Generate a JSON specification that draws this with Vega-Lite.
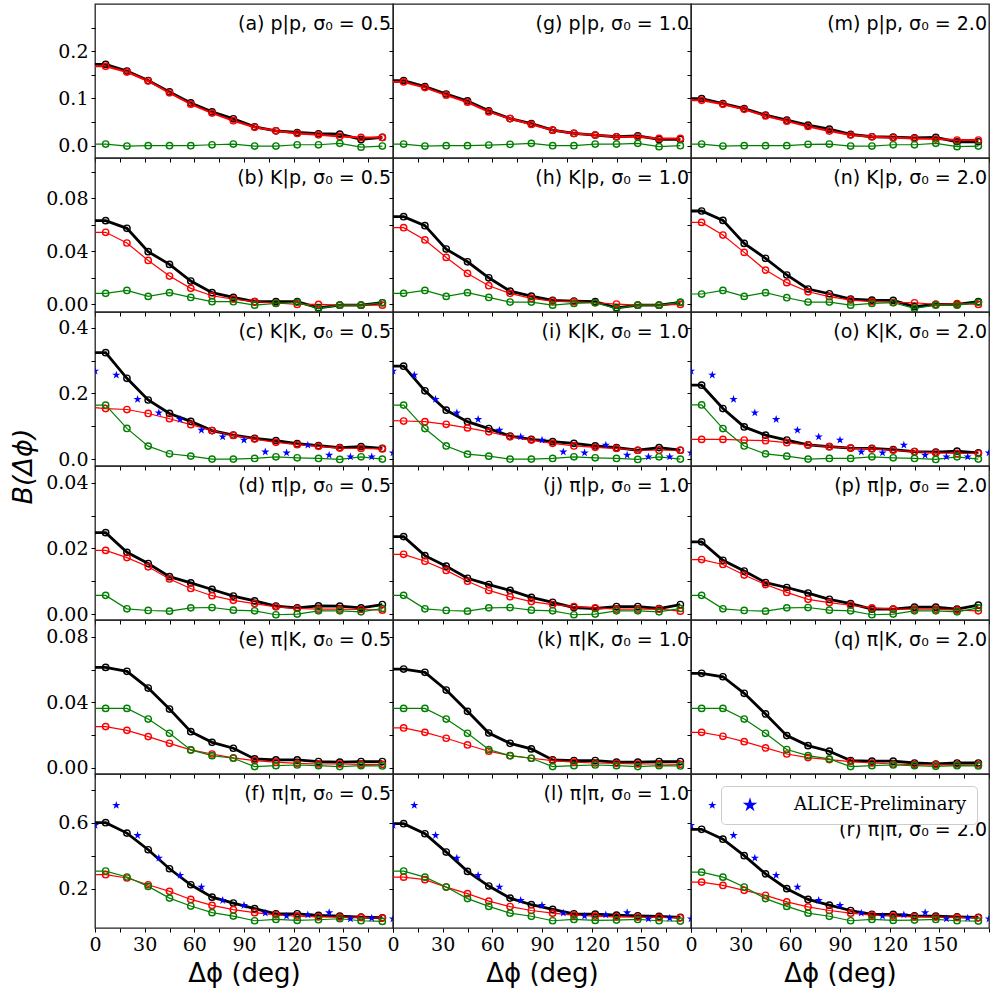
{
"$schema":"https://vega.github.io/schema/vega-lite/v6.json",
"background":"white",
"padding":{"left":9,"top":3,"right":5,"bottom":3},
"columns":3,"spacing":0,"bounds":"flush",
"resolve":{"scale":{"shape":"independent"},"legend":{"shape":"independent"}},
"data":{"values":[
{"p":"a","x":-6.43,"T":0.172,"R":0.168,"G":0.0035},{"p":"a","x":6.43,"T":0.172,"R":0.168,"G":0.0035},{"p":"a","x":19.29,"T":0.158,"R":0.156,"G":-0.0007},{"p":"a","x":32.14,"T":0.138,"R":0.137,"G":0},{"p":"a","x":45,"T":0.114,"R":0.112,"G":0},{"p":"a","x":57.86,"T":0.0905,"R":0.088,"G":0},{"p":"a","x":70.71,"T":0.0716,"R":0.069,"G":0.002},{"p":"a","x":83.57,"T":0.057,"R":0.053,"G":0.0035},{"p":"a","x":96.43,"T":0.04,"R":0.039,"G":-0.0007},{"p":"a","x":109.29,"T":0.0316,"R":0.0316,"G":-0.0007},{"p":"a","x":122.14,"T":0.028,"R":0.026,"G":0.002},{"p":"a","x":135,"T":0.0253,"R":0.023,"G":0.002},{"p":"a","x":147.86,"T":0.0246,"R":0.0196,"G":0.005},{"p":"a","x":160.71,"T":0.0133,"R":0.0175,"G":-0.003},{"p":"a","x":173.57,"T":0.0175,"R":0.0175,"G":-0.0007},
{"p":"g","x":-6.43,"T":0.138,"R":0.135,"G":0.0035},{"p":"g","x":6.43,"T":0.138,"R":0.135,"G":0.0035},{"p":"g","x":19.29,"T":0.125,"R":0.123,"G":-0.0007},{"p":"g","x":32.14,"T":0.1095,"R":0.107,"G":0},{"p":"g","x":45,"T":0.0947,"R":0.092,"G":0},{"p":"g","x":57.86,"T":0.074,"R":0.0716,"G":0.0014},{"p":"g","x":70.71,"T":0.0575,"R":0.0575,"G":0.003},{"p":"g","x":83.57,"T":0.047,"R":0.045,"G":0.005},{"p":"g","x":96.43,"T":0.033,"R":0.033,"G":0},{"p":"g","x":109.29,"T":0.026,"R":0.026,"G":0},{"p":"g","x":122.14,"T":0.0225,"R":0.0225,"G":0.0035},{"p":"g","x":135,"T":0.019,"R":0.019,"G":0.0035},{"p":"g","x":147.86,"T":0.021,"R":0.019,"G":0.005},{"p":"g","x":160.71,"T":0.0133,"R":0.0155,"G":-0.002},{"p":"g","x":173.57,"T":0.0133,"R":0.0155,"G":0},
{"p":"m","x":-6.43,"T":0.0996,"R":0.096,"G":0.0035},{"p":"m","x":6.43,"T":0.0996,"R":0.096,"G":0.0035},{"p":"m","x":19.29,"T":0.089,"R":0.0877,"G":-0.0007},{"p":"m","x":32.14,"T":0.0786,"R":0.077,"G":0},{"p":"m","x":45,"T":0.0646,"R":0.063,"G":0},{"p":"m","x":57.86,"T":0.054,"R":0.052,"G":0},{"p":"m","x":70.71,"T":0.0435,"R":0.0407,"G":0.003},{"p":"m","x":83.57,"T":0.035,"R":0.031,"G":0.0035},{"p":"m","x":96.43,"T":0.0239,"R":0.0225,"G":-0.0007},{"p":"m","x":109.29,"T":0.019,"R":0.019,"G":-0.0007},{"p":"m","x":122.14,"T":0.018,"R":0.0168,"G":0.002},{"p":"m","x":135,"T":0.0168,"R":0.0154,"G":0.002},{"p":"m","x":147.86,"T":0.0175,"R":0.014,"G":0.005},{"p":"m","x":160.71,"T":0.0084,"R":0.012,"G":-0.002},{"p":"m","x":173.57,"T":0.0084,"R":0.012,"G":-0.0007},
{"p":"b","x":-6.43,"T":0.0631,"R":0.0543,"G":0.0081},{"p":"b","x":6.43,"T":0.0631,"R":0.0543,"G":0.0081},{"p":"b","x":19.29,"T":0.0573,"R":0.0462,"G":0.0103},{"p":"b","x":32.14,"T":0.0396,"R":0.033,"G":0.0058},{"p":"b","x":45,"T":0.03,"R":0.0212,"G":0.0086},{"p":"b","x":57.86,"T":0.0174,"R":0.0119,"G":0.005},{"p":"b","x":70.71,"T":0.0086,"R":0.0063,"G":0.0018},{"p":"b","x":83.57,"T":0.005,"R":0.0038,"G":0.0018},{"p":"b","x":96.43,"T":0.0018,"R":0.0018,"G":-0.0008},{"p":"b","x":109.29,"T":0.0018,"R":0.0008,"G":0.0005},{"p":"b","x":122.14,"T":0.0018,"R":-0.0003,"G":0.0013},{"p":"b","x":135,"T":-0.0028,"R":-0.0003,"G":-0.0033},{"p":"b","x":147.86,"T":-0.0008,"R":-0.0008,"G":-0.0008},{"p":"b","x":160.71,"T":-0.0008,"R":-0.0008,"G":-0.0008},{"p":"b","x":173.57,"T":0.001,"R":-0.0008,"G":0.001},
{"p":"h","x":-6.43,"T":0.0661,"R":0.0578,"G":0.0081},{"p":"h","x":6.43,"T":0.0661,"R":0.0578,"G":0.0081},{"p":"h","x":19.29,"T":0.0593,"R":0.0485,"G":0.0103},{"p":"h","x":32.14,"T":0.0416,"R":0.0353,"G":0.0058},{"p":"h","x":45,"T":0.032,"R":0.0232,"G":0.0086},{"p":"h","x":57.86,"T":0.0199,"R":0.0139,"G":0.005},{"p":"h","x":70.71,"T":0.0098,"R":0.0081,"G":0.0015},{"p":"h","x":83.57,"T":0.006,"R":0.0043,"G":0.0015},{"p":"h","x":96.43,"T":0.0028,"R":0.0023,"G":-0.0008},{"p":"h","x":109.29,"T":0.0023,"R":0.0018,"G":0.0005},{"p":"h","x":122.14,"T":0.0018,"R":0.001,"G":0.001},{"p":"h","x":135,"T":-0.0028,"R":0,"G":-0.0033},{"p":"h","x":147.86,"T":-0.0008,"R":-0.0008,"G":-0.0008},{"p":"h","x":160.71,"T":-0.0008,"R":-0.0008,"G":-0.0008},{"p":"h","x":173.57,"T":0.0013,"R":-0.0003,"G":0.0013},
{"p":"n","x":-6.43,"T":0.0704,"R":0.0618,"G":0.0076},{"p":"n","x":6.43,"T":0.0704,"R":0.0618,"G":0.0076},{"p":"n","x":19.29,"T":0.0633,"R":0.0522,"G":0.0103},{"p":"n","x":32.14,"T":0.0459,"R":0.0391,"G":0.0058},{"p":"n","x":45,"T":0.0346,"R":0.0257,"G":0.0086},{"p":"n","x":57.86,"T":0.022,"R":0.0162,"G":0.0048},{"p":"n","x":70.71,"T":0.0114,"R":0.0093,"G":0.0015},{"p":"n","x":83.57,"T":0.0078,"R":0.0056,"G":0.0015},{"p":"n","x":96.43,"T":0.0038,"R":0.003,"G":-0.0008},{"p":"n","x":109.29,"T":0.003,"R":0.0018,"G":0.0005},{"p":"n","x":122.14,"T":0.0028,"R":0.0013,"G":0.001},{"p":"n","x":135,"T":-0.002,"R":0.001,"G":-0.0033},{"p":"n","x":147.86,"T":-0.0003,"R":-0.0003,"G":-0.0008},{"p":"n","x":160.71,"T":-0.0003,"R":0.0003,"G":-0.0008},{"p":"n","x":173.57,"T":0.0018,"R":-0.0003,"G":0.0013},
{"p":"c","x":-6.43,"T":0.324,"R":0.159,"G":0.1645},{"p":"c","x":6.43,"T":0.324,"R":0.154,"G":0.1645},{"p":"c","x":19.29,"T":0.246,"R":0.151,"G":0.0934},{"p":"c","x":32.14,"T":0.18,"R":0.139,"G":0.0396},{"p":"c","x":45,"T":0.139,"R":0.123,"G":0.0162},{"p":"c","x":57.86,"T":0.115,"R":0.105,"G":0.0091},{"p":"c","x":70.71,"T":0.087,"R":0.087,"G":0},{"p":"c","x":83.57,"T":0.073,"R":0.072,"G":0},{"p":"c","x":96.43,"T":0.063,"R":0.061,"G":0.002},{"p":"c","x":109.29,"T":0.056,"R":0.051,"G":0.007},{"p":"c","x":122.14,"T":0.047,"R":0.044,"G":0.004},{"p":"c","x":135,"T":0.041,"R":0.039,"G":0.002},{"p":"c","x":147.86,"T":0.035,"R":0.0335,"G":-0.001},{"p":"c","x":160.71,"T":0.038,"R":0.0325,"G":0.007},{"p":"c","x":173.57,"T":0.0325,"R":0.031,"G":0},
{"p":"i","x":-6.43,"T":0.283,"R":0.118,"G":0.1645},{"p":"i","x":6.43,"T":0.283,"R":0.116,"G":0.1645},{"p":"i","x":19.29,"T":0.208,"R":0.114,"G":0.093},{"p":"i","x":32.14,"T":0.149,"R":0.106,"G":0.04},{"p":"i","x":45,"T":0.114,"R":0.095,"G":0.015},{"p":"i","x":57.86,"T":0.093,"R":0.083,"G":0.009},{"p":"i","x":70.71,"T":0.07,"R":0.068,"G":0},{"p":"i","x":83.57,"T":0.06,"R":0.058,"G":0},{"p":"i","x":96.43,"T":0.053,"R":0.048,"G":0.002},{"p":"i","x":109.29,"T":0.048,"R":0.04,"G":0.007},{"p":"i","x":122.14,"T":0.04,"R":0.036,"G":0.004},{"p":"i","x":135,"T":0.035,"R":0.0325,"G":0.002},{"p":"i","x":147.86,"T":0.027,"R":0.027,"G":-0.001},{"p":"i","x":160.71,"T":0.035,"R":0.027,"G":0.007},{"p":"i","x":173.57,"T":0.027,"R":0.027,"G":0},
{"p":"o","x":-6.43,"T":0.225,"R":0.06,"G":0.165},{"p":"o","x":6.43,"T":0.225,"R":0.06,"G":0.165},{"p":"o","x":19.29,"T":0.154,"R":0.06,"G":0.093},{"p":"o","x":32.14,"T":0.098,"R":0.058,"G":0.04},{"p":"o","x":45,"T":0.073,"R":0.056,"G":0.016},{"p":"o","x":57.86,"T":0.058,"R":0.05,"G":0.009},{"p":"o","x":70.71,"T":0.043,"R":0.043,"G":0},{"p":"o","x":83.57,"T":0.038,"R":0.038,"G":0.002},{"p":"o","x":96.43,"T":0.0335,"R":0.0335,"G":0.002},{"p":"o","x":109.29,"T":0.0325,"R":0.031,"G":0.007},{"p":"o","x":122.14,"T":0.029,"R":0.027,"G":0.004},{"p":"o","x":135,"T":0.023,"R":0.023,"G":0.002},{"p":"o","x":147.86,"T":0.021,"R":0.019,"G":-0.001},{"p":"o","x":160.71,"T":0.024,"R":0.017,"G":0.007},{"p":"o","x":173.57,"T":0.019,"R":0.017,"G":0},
{"p":"KK","x":0,"S":0.268},{"p":"KK","x":12.86,"S":0.256},{"p":"KK","x":25.71,"S":0.182},{"p":"KK","x":38.57,"S":0.141},{"p":"KK","x":51.43,"S":0.121},{"p":"KK","x":64.29,"S":0.088},{"p":"KK","x":77.14,"S":0.068},{"p":"KK","x":90,"S":0.058},{"p":"KK","x":102.86,"S":0.022},{"p":"KK","x":115.71,"S":0.019},{"p":"KK","x":128.57,"S":0.043},{"p":"KK","x":141.43,"S":0.012},{"p":"KK","x":154.29,"S":0.007},{"p":"KK","x":167.14,"S":0.007},{"p":"KK","x":180,"S":0.019},
{"p":"d","x":-6.43,"T":0.0248,"R":0.0194,"G":0.0057},{"p":"d","x":6.43,"T":0.0248,"R":0.0194,"G":0.0057},{"p":"d","x":19.29,"T":0.0188,"R":0.0172,"G":0.0016},{"p":"d","x":32.14,"T":0.0154,"R":0.0144,"G":0.0011},{"p":"d","x":45,"T":0.0114,"R":0.0107,"G":0.0009},{"p":"d","x":57.86,"T":0.0095,"R":0.0078,"G":0.0019},{"p":"d","x":70.71,"T":0.0075,"R":0.0056,"G":0.002},{"p":"d","x":83.57,"T":0.0055,"R":0.0042,"G":0.0012},{"p":"d","x":96.43,"T":0.004,"R":0.0032,"G":0.001},{"p":"d","x":109.29,"T":0.0024,"R":0.0022,"G":-0.0002},{"p":"d","x":122.14,"T":0.0019,"R":0.0017,"G":0},{"p":"d","x":135,"T":0.0025,"R":0.0015,"G":0.001},{"p":"d","x":147.86,"T":0.0024,"R":0.0015,"G":0.001},{"p":"d","x":160.71,"T":0.0019,"R":0.0014,"G":0.0007},{"p":"d","x":173.57,"T":0.0029,"R":0.0012,"G":0.0017},
{"p":"j","x":-6.43,"T":0.0236,"R":0.0182,"G":0.0057},{"p":"j","x":6.43,"T":0.0236,"R":0.0182,"G":0.0057},{"p":"j","x":19.29,"T":0.0178,"R":0.0161,"G":0.0016},{"p":"j","x":32.14,"T":0.0146,"R":0.0133,"G":0.0011},{"p":"j","x":45,"T":0.0109,"R":0.01,"G":0.0009},{"p":"j","x":57.86,"T":0.009,"R":0.0072,"G":0.0019},{"p":"j","x":70.71,"T":0.0072,"R":0.0053,"G":0.002},{"p":"j","x":83.57,"T":0.0051,"R":0.0038,"G":0.0012},{"p":"j","x":96.43,"T":0.0036,"R":0.0029,"G":0.001},{"p":"j","x":109.29,"T":0.002,"R":0.0023,"G":-0.0002},{"p":"j","x":122.14,"T":0.0017,"R":0.0019,"G":0},{"p":"j","x":135,"T":0.0023,"R":0.0015,"G":0.001},{"p":"j","x":147.86,"T":0.0023,"R":0.0015,"G":0.001},{"p":"j","x":160.71,"T":0.0017,"R":0.0015,"G":0.0007},{"p":"j","x":173.57,"T":0.0029,"R":0.0009,"G":0.0017},
{"p":"pp","x":-6.43,"T":0.022,"R":0.0166,"G":0.0057},{"p":"pp","x":6.43,"T":0.022,"R":0.0166,"G":0.0057},{"p":"pp","x":19.29,"T":0.0164,"R":0.0151,"G":0.0016},{"p":"pp","x":32.14,"T":0.0131,"R":0.0119,"G":0.0011},{"p":"pp","x":45,"T":0.0096,"R":0.009,"G":0.0009},{"p":"pp","x":57.86,"T":0.0081,"R":0.0066,"G":0.0019},{"p":"pp","x":70.71,"T":0.0064,"R":0.0045,"G":0.002},{"p":"pp","x":83.57,"T":0.0045,"R":0.0035,"G":0.0012},{"p":"pp","x":96.43,"T":0.0032,"R":0.0027,"G":0.001},{"p":"pp","x":109.29,"T":0.0015,"R":0.0019,"G":-0.0002},{"p":"pp","x":122.14,"T":0.0015,"R":0.0015,"G":0},{"p":"pp","x":135,"T":0.0021,"R":0.0015,"G":0.001},{"p":"pp","x":147.86,"T":0.0021,"R":0.0015,"G":0.001},{"p":"pp","x":160.71,"T":0.0015,"R":0.0012,"G":0.0007},{"p":"pp","x":173.57,"T":0.0027,"R":0.001,"G":0.0019},
{"p":"e","x":-6.43,"T":0.0613,"R":0.0252,"G":0.0363},{"p":"e","x":6.43,"T":0.0613,"R":0.0252,"G":0.0363},{"p":"e","x":19.29,"T":0.0589,"R":0.0229,"G":0.0363},{"p":"e","x":32.14,"T":0.0487,"R":0.0191,"G":0.0298},{"p":"e","x":45,"T":0.0359,"R":0.015,"G":0.0211},{"p":"e","x":57.86,"T":0.0221,"R":0.011,"G":0.011},{"p":"e","x":70.71,"T":0.0156,"R":0.0085,"G":0.0075},{"p":"e","x":83.57,"T":0.012,"R":0.0061,"G":0.0059},{"p":"e","x":96.43,"T":0.0055,"R":0.0045,"G":0.0008},{"p":"e","x":109.29,"T":0.0049,"R":0.0035,"G":0.0014},{"p":"e","x":122.14,"T":0.0049,"R":0.0028,"G":0.0018},{"p":"e","x":135,"T":0.0039,"R":0.0024,"G":0.0014},{"p":"e","x":147.86,"T":0.0035,"R":0.0024,"G":0.0008},{"p":"e","x":160.71,"T":0.0039,"R":0.0022,"G":0.0014},{"p":"e","x":173.57,"T":0.0039,"R":0.0022,"G":0.0012},
{"p":"k","x":-6.43,"T":0.0603,"R":0.0244,"G":0.0363},{"p":"k","x":6.43,"T":0.0603,"R":0.0244,"G":0.0363},{"p":"k","x":19.29,"T":0.0583,"R":0.0217,"G":0.0363},{"p":"k","x":32.14,"T":0.0475,"R":0.0181,"G":0.0298},{"p":"k","x":45,"T":0.0345,"R":0.014,"G":0.0211},{"p":"k","x":57.86,"T":0.0213,"R":0.0102,"G":0.0112},{"p":"k","x":70.71,"T":0.015,"R":0.0075,"G":0.0075},{"p":"k","x":83.57,"T":0.0116,"R":0.0059,"G":0.0059},{"p":"k","x":96.43,"T":0.0049,"R":0.0045,"G":0.0008},{"p":"k","x":109.29,"T":0.0045,"R":0.0035,"G":0.0014},{"p":"k","x":122.14,"T":0.0045,"R":0.003,"G":0.0018},{"p":"k","x":135,"T":0.0035,"R":0.0028,"G":0.0014},{"p":"k","x":147.86,"T":0.0035,"R":0.0024,"G":0.0008},{"p":"k","x":160.71,"T":0.0039,"R":0.0024,"G":0.0014},{"p":"k","x":173.57,"T":0.0039,"R":0.0022,"G":0.0012},
{"p":"q","x":-6.43,"T":0.0577,"R":0.0217,"G":0.0363},{"p":"q","x":6.43,"T":0.0577,"R":0.0217,"G":0.0363},{"p":"q","x":19.29,"T":0.0556,"R":0.0193,"G":0.0363},{"p":"q","x":32.14,"T":0.0455,"R":0.016,"G":0.0298},{"p":"q","x":45,"T":0.0329,"R":0.0122,"G":0.0211},{"p":"q","x":57.86,"T":0.0197,"R":0.0085,"G":0.0112},{"p":"q","x":70.71,"T":0.0136,"R":0.0063,"G":0.0075},{"p":"q","x":83.57,"T":0.0102,"R":0.0051,"G":0.0055},{"p":"q","x":96.43,"T":0.0045,"R":0.0039,"G":0.0008},{"p":"q","x":109.29,"T":0.0041,"R":0.003,"G":0.0014},{"p":"q","x":122.14,"T":0.0041,"R":0.0024,"G":0.0018},{"p":"q","x":135,"T":0.003,"R":0.002,"G":0.0014},{"p":"q","x":147.86,"T":0.0024,"R":0.002,"G":0.001},{"p":"q","x":160.71,"T":0.003,"R":0.0018,"G":0.0014},{"p":"q","x":173.57,"T":0.003,"R":0.0018,"G":0.0012},
{"p":"f","x":-6.43,"T":0.6,"R":0.285,"G":0.307},{"p":"f","x":6.43,"T":0.6,"R":0.285,"G":0.307},{"p":"f","x":19.29,"T":0.537,"R":0.265,"G":0.271},{"p":"f","x":32.14,"T":0.436,"R":0.224,"G":0.214},{"p":"f","x":45,"T":0.321,"R":0.184,"G":0.143},{"p":"f","x":57.86,"T":0.224,"R":0.135,"G":0.095},{"p":"f","x":70.71,"T":0.149,"R":0.099,"G":0.055},{"p":"f","x":83.57,"T":0.113,"R":0.073,"G":0.034},{"p":"f","x":96.43,"T":0.079,"R":0.055,"G":0.006},{"p":"f","x":109.29,"T":0.048,"R":0.042,"G":0.014},{"p":"f","x":122.14,"T":0.048,"R":0.034,"G":0.008},{"p":"f","x":135,"T":0.038,"R":0.03,"G":0.012},{"p":"f","x":147.86,"T":0.034,"R":0.028,"G":0.018},{"p":"f","x":160.71,"T":0.028,"R":0.026,"G":0.006},{"p":"f","x":173.57,"T":0.024,"R":0.022,"G":0.002},
{"p":"l","x":-6.43,"T":0.594,"R":0.27,"G":0.307},{"p":"l","x":6.43,"T":0.594,"R":0.27,"G":0.307},{"p":"l","x":19.29,"T":0.533,"R":0.255,"G":0.27},{"p":"l","x":32.14,"T":0.422,"R":0.21,"G":0.21},{"p":"l","x":45,"T":0.305,"R":0.17,"G":0.14},{"p":"l","x":57.86,"T":0.216,"R":0.125,"G":0.093},{"p":"l","x":70.71,"T":0.143,"R":0.092,"G":0.052},{"p":"l","x":83.57,"T":0.103,"R":0.068,"G":0.033},{"p":"l","x":96.43,"T":0.075,"R":0.052,"G":0.006},{"p":"l","x":109.29,"T":0.048,"R":0.04,"G":0.014},{"p":"l","x":122.14,"T":0.046,"R":0.034,"G":0.008},{"p":"l","x":135,"T":0.04,"R":0.03,"G":0.01},{"p":"l","x":147.86,"T":0.036,"R":0.028,"G":0.014},{"p":"l","x":160.71,"T":0.032,"R":0.026,"G":0.006},{"p":"l","x":173.57,"T":0.026,"R":0.024,"G":0.004},
{"p":"r","x":-6.43,"T":0.56,"R":0.24,"G":0.3},{"p":"r","x":6.43,"T":0.56,"R":0.24,"G":0.3},{"p":"r","x":19.29,"T":0.5,"R":0.22,"G":0.27},{"p":"r","x":32.14,"T":0.4,"R":0.19,"G":0.21},{"p":"r","x":45,"T":0.29,"R":0.16,"G":0.14},{"p":"r","x":57.86,"T":0.2,"R":0.12,"G":0.093},{"p":"r","x":70.71,"T":0.135,"R":0.09,"G":0.052},{"p":"r","x":83.57,"T":0.1,"R":0.068,"G":0.033},{"p":"r","x":96.43,"T":0.068,"R":0.052,"G":0.006},{"p":"r","x":109.29,"T":0.045,"R":0.04,"G":0.014},{"p":"r","x":122.14,"T":0.044,"R":0.034,"G":0.008},{"p":"r","x":135,"T":0.036,"R":0.03,"G":0.01},{"p":"r","x":147.86,"T":0.034,"R":0.028,"G":0.014},{"p":"r","x":160.71,"T":0.03,"R":0.026,"G":0.006},{"p":"r","x":173.57,"T":0.026,"R":0.024,"G":0.004},
{"p":"PP","x":0,"S":0.584},{"p":"PP","x":12.86,"S":0.705},{"p":"PP","x":25.71,"S":0.523},{"p":"PP","x":38.57,"S":0.386},{"p":"PP","x":51.43,"S":0.281},{"p":"PP","x":64.29,"S":0.21},{"p":"PP","x":77.14,"S":0.129},{"p":"PP","x":90,"S":0.099},{"p":"PP","x":102.86,"S":0.0525},{"p":"PP","x":115.71,"S":0.034},{"p":"PP","x":128.57,"S":0.042},{"p":"PP","x":141.43,"S":0.055},{"p":"PP","x":154.29,"S":0.018},{"p":"PP","x":167.14,"S":0.022},{"p":"PP","x":180,"S":0.018}
]},
"concat":[
{"width":298,"height":154,"transform":[{"filter":"datum.p=='a'"},{"fold":["T","R","G"],"as":["s","v"]}],
"encoding":{"x":{"field":"x","type":"quantitative","scale":{"domain":[0,180]},"axis":{"title":null,"labels":false,"values":[0,15,30,45,60,75,90,105,120,135,150,165,180]}},
"y":{"field":"v","type":"quantitative","scale":{"domain":[-0.026,0.3]},"axis":{"title":null,"values":[0,0.05,0.1,0.15,0.2,0.25],"format":".1f","labelExpr":"abs(datum.value*10-round(datum.value*10))>0.001 ? '' : datum.label"}},
"color":{"field":"s","type":"nominal","scale":{"domain":["T","R","G","S"],"range":["#000000","#ff0000","#008000","#0000ff"]},"legend":null}},
"layer":[{"transform":[{"filter":"datum.s=='T'"}],"mark":{"type":"line","clip":true,"strokeWidth":2.8}},{"transform":[{"filter":"datum.s=='R'"}],"mark":{"type":"line","clip":true,"strokeWidth":2}},{"transform":[{"filter":"datum.s=='G'"}],"mark":{"type":"line","clip":true,"strokeWidth":1.2}},{"transform":[{"filter":"datum.x>0"}],"mark":{"type":"point","size":40,"strokeWidth":1.4}},
{"transform":[{"filter":"datum.x==6.43 && datum.s=='T'"}],"mark":{"type":"text","text":"(a) p|p, σ₀ = 0.5","align":"right","baseline":"top","dx":-2,"dy":11},"encoding":{"x":{"datum":180},"y":{"datum":0.3},"color":{"value":"black"}}}]},
{"width":298,"height":154,"transform":[{"filter":"datum.p=='g'"},{"fold":["T","R","G"],"as":["s","v"]}],
"encoding":{"x":{"field":"x","type":"quantitative","scale":{"domain":[0,180]},"axis":{"title":null,"labels":false,"values":[0,15,30,45,60,75,90,105,120,135,150,165,180]}},
"y":{"field":"v","type":"quantitative","scale":{"domain":[-0.026,0.3]},"axis":{"title":null,"labels":false,"values":[0,0.05,0.1,0.15,0.2,0.25]}},
"color":{"field":"s","type":"nominal","scale":{"domain":["T","R","G","S"],"range":["#000000","#ff0000","#008000","#0000ff"]},"legend":null}},
"layer":[{"transform":[{"filter":"datum.s=='T'"}],"mark":{"type":"line","clip":true,"strokeWidth":2.8}},{"transform":[{"filter":"datum.s=='R'"}],"mark":{"type":"line","clip":true,"strokeWidth":2}},{"transform":[{"filter":"datum.s=='G'"}],"mark":{"type":"line","clip":true,"strokeWidth":1.2}},{"transform":[{"filter":"datum.x>0"}],"mark":{"type":"point","size":40,"strokeWidth":1.4}},
{"transform":[{"filter":"datum.x==6.43 && datum.s=='T'"}],"mark":{"type":"text","text":"(g) p|p, σ₀ = 1.0","align":"right","baseline":"top","dx":-2,"dy":11},"encoding":{"x":{"datum":180},"y":{"datum":0.3},"color":{"value":"black"}}}]},
{"width":298,"height":154,"transform":[{"filter":"datum.p=='m'"},{"fold":["T","R","G"],"as":["s","v"]}],
"encoding":{"x":{"field":"x","type":"quantitative","scale":{"domain":[0,180]},"axis":{"title":null,"labels":false,"values":[0,15,30,45,60,75,90,105,120,135,150,165,180]}},
"y":{"field":"v","type":"quantitative","scale":{"domain":[-0.026,0.3]},"axis":{"title":null,"labels":false,"values":[0,0.05,0.1,0.15,0.2,0.25]}},
"color":{"field":"s","type":"nominal","scale":{"domain":["T","R","G","S"],"range":["#000000","#ff0000","#008000","#0000ff"]},"legend":null}},
"layer":[{"transform":[{"filter":"datum.s=='T'"}],"mark":{"type":"line","clip":true,"strokeWidth":2.8}},{"transform":[{"filter":"datum.s=='R'"}],"mark":{"type":"line","clip":true,"strokeWidth":2}},{"transform":[{"filter":"datum.s=='G'"}],"mark":{"type":"line","clip":true,"strokeWidth":1.2}},{"transform":[{"filter":"datum.x>0"}],"mark":{"type":"point","size":40,"strokeWidth":1.4}},
{"transform":[{"filter":"datum.x==6.43 && datum.s=='T'"}],"mark":{"type":"text","text":"(m) p|p, σ₀ = 2.0","align":"right","baseline":"top","dx":-2,"dy":11},"encoding":{"x":{"datum":180},"y":{"datum":0.3},"color":{"value":"black"}}}]},
{"width":298,"height":154,"transform":[{"filter":"datum.p=='b'"},{"fold":["T","R","G"],"as":["s","v"]}],
"encoding":{"x":{"field":"x","type":"quantitative","scale":{"domain":[0,180]},"axis":{"title":null,"labels":false,"values":[0,15,30,45,60,75,90,105,120,135,150,165,180]}},
"y":{"field":"v","type":"quantitative","scale":{"domain":[-0.006,0.1105]},"axis":{"title":null,"values":[0,0.02,0.04,0.06,0.08,0.1],"format":".2f","labelExpr":"abs(datum.value*25-round(datum.value*25))>0.001 ? '' : datum.label"}},
"color":{"field":"s","type":"nominal","scale":{"domain":["T","R","G","S"],"range":["#000000","#ff0000","#008000","#0000ff"]},"legend":null}},
"layer":[{"transform":[{"filter":"datum.s=='T'"}],"mark":{"type":"line","clip":true,"strokeWidth":2.8}},{"transform":[{"filter":"datum.s!='T'"}],"mark":{"type":"line","clip":true,"strokeWidth":1.2}},{"transform":[{"filter":"datum.x>0"}],"mark":{"type":"point","size":40,"strokeWidth":1.4}},
{"transform":[{"filter":"datum.x==6.43 && datum.s=='T'"}],"mark":{"type":"text","text":"(b) K|p, σ₀ = 0.5","align":"right","baseline":"top","dx":-2,"dy":11},"encoding":{"x":{"datum":180},"y":{"datum":0.1105},"color":{"value":"black"}}}]},
{"width":298,"height":154,"transform":[{"filter":"datum.p=='h'"},{"fold":["T","R","G"],"as":["s","v"]}],
"encoding":{"x":{"field":"x","type":"quantitative","scale":{"domain":[0,180]},"axis":{"title":null,"labels":false,"values":[0,15,30,45,60,75,90,105,120,135,150,165,180]}},
"y":{"field":"v","type":"quantitative","scale":{"domain":[-0.006,0.1105]},"axis":{"title":null,"labels":false,"values":[0,0.02,0.04,0.06,0.08,0.1]}},
"color":{"field":"s","type":"nominal","scale":{"domain":["T","R","G","S"],"range":["#000000","#ff0000","#008000","#0000ff"]},"legend":null}},
"layer":[{"transform":[{"filter":"datum.s=='T'"}],"mark":{"type":"line","clip":true,"strokeWidth":2.8}},{"transform":[{"filter":"datum.s!='T'"}],"mark":{"type":"line","clip":true,"strokeWidth":1.2}},{"transform":[{"filter":"datum.x>0"}],"mark":{"type":"point","size":40,"strokeWidth":1.4}},
{"transform":[{"filter":"datum.x==6.43 && datum.s=='T'"}],"mark":{"type":"text","text":"(h) K|p, σ₀ = 1.0","align":"right","baseline":"top","dx":-2,"dy":11},"encoding":{"x":{"datum":180},"y":{"datum":0.1105},"color":{"value":"black"}}}]},
{"width":298,"height":154,"transform":[{"filter":"datum.p=='n'"},{"fold":["T","R","G"],"as":["s","v"]}],
"encoding":{"x":{"field":"x","type":"quantitative","scale":{"domain":[0,180]},"axis":{"title":null,"labels":false,"values":[0,15,30,45,60,75,90,105,120,135,150,165,180]}},
"y":{"field":"v","type":"quantitative","scale":{"domain":[-0.006,0.1105]},"axis":{"title":null,"labels":false,"values":[0,0.02,0.04,0.06,0.08,0.1]}},
"color":{"field":"s","type":"nominal","scale":{"domain":["T","R","G","S"],"range":["#000000","#ff0000","#008000","#0000ff"]},"legend":null}},
"layer":[{"transform":[{"filter":"datum.s=='T'"}],"mark":{"type":"line","clip":true,"strokeWidth":2.8}},{"transform":[{"filter":"datum.s!='T'"}],"mark":{"type":"line","clip":true,"strokeWidth":1.2}},{"transform":[{"filter":"datum.x>0"}],"mark":{"type":"point","size":40,"strokeWidth":1.4}},
{"transform":[{"filter":"datum.x==6.43 && datum.s=='T'"}],"mark":{"type":"text","text":"(n) K|p, σ₀ = 2.0","align":"right","baseline":"top","dx":-2,"dy":11},"encoding":{"x":{"datum":180},"y":{"datum":0.1105},"color":{"value":"black"}}}]},
{"width":298,"height":154,"transform":[{"filter":"datum.p=='c'||datum.p=='KK'"},{"fold":["T","R","G","S"],"as":["s","v"]}],
"encoding":{"x":{"field":"x","type":"quantitative","scale":{"domain":[0,180]},"axis":{"title":null,"labels":false,"values":[0,15,30,45,60,75,90,105,120,135,150,165,180]}},
"y":{"field":"v","type":"quantitative","scale":{"domain":[-0.021,0.448]},"axis":{"title":"B(Δϕ)","titleFontSize":27,"titleFontStyle":"italic","titleY":154,"titlePadding":20,"values":[0,0.1,0.2,0.3,0.4],"format":".1f","labelExpr":"abs(datum.value*5-round(datum.value*5))>0.001 ? '' : datum.label"}},
"color":{"field":"s","type":"nominal","scale":{"domain":["T","R","G","S"],"range":["#000000","#ff0000","#008000","#0000ff"]},"legend":null}},
"layer":[{"transform":[{"filter":"datum.s=='T' && isValid(datum.v)"}],"mark":{"type":"line","clip":true,"strokeWidth":2.8}},{"transform":[{"filter":"datum.s!='T' && datum.s!='S' && isValid(datum.v)"}],"mark":{"type":"line","clip":true,"strokeWidth":1.2}},{"transform":[{"filter":"datum.s!='S' && isValid(datum.v) && datum.x>0"}],"mark":{"type":"point","size":40,"strokeWidth":1.4}},{"transform":[{"filter":"datum.s=='S'"}],"mark":{"type":"point","shape":"M0,-1L0.2245,-0.309L0.951,-0.309L0.363,0.118L0.588,0.809L0,0.382L-0.588,0.809L-0.363,0.118L-0.951,-0.309L-0.2245,-0.309Z","filled":true,"size":75,"clip":true}},
{"transform":[{"filter":"datum.x==6.43 && datum.s=='T'"}],"mark":{"type":"text","text":"(c) K|K, σ₀ = 0.5","align":"right","baseline":"top","dx":-2,"dy":11},"encoding":{"x":{"datum":180},"y":{"datum":0.448},"color":{"value":"black"}}}]},
{"width":298,"height":154,"transform":[{"filter":"datum.p=='i'||datum.p=='KK'"},{"fold":["T","R","G","S"],"as":["s","v"]}],
"encoding":{"x":{"field":"x","type":"quantitative","scale":{"domain":[0,180]},"axis":{"title":null,"labels":false,"values":[0,15,30,45,60,75,90,105,120,135,150,165,180]}},
"y":{"field":"v","type":"quantitative","scale":{"domain":[-0.021,0.448]},"axis":{"title":null,"labels":false,"values":[0,0.1,0.2,0.3,0.4]}},
"color":{"field":"s","type":"nominal","scale":{"domain":["T","R","G","S"],"range":["#000000","#ff0000","#008000","#0000ff"]},"legend":null}},
"layer":[{"transform":[{"filter":"datum.s=='T' && isValid(datum.v)"}],"mark":{"type":"line","clip":true,"strokeWidth":2.8}},{"transform":[{"filter":"datum.s!='T' && datum.s!='S' && isValid(datum.v)"}],"mark":{"type":"line","clip":true,"strokeWidth":1.2}},{"transform":[{"filter":"datum.s!='S' && isValid(datum.v) && datum.x>0"}],"mark":{"type":"point","size":40,"strokeWidth":1.4}},{"transform":[{"filter":"datum.s=='S'"}],"mark":{"type":"point","shape":"M0,-1L0.2245,-0.309L0.951,-0.309L0.363,0.118L0.588,0.809L0,0.382L-0.588,0.809L-0.363,0.118L-0.951,-0.309L-0.2245,-0.309Z","filled":true,"size":75,"clip":true}},
{"transform":[{"filter":"datum.x==6.43 && datum.s=='T'"}],"mark":{"type":"text","text":"(i) K|K, σ₀ = 1.0","align":"right","baseline":"top","dx":-2,"dy":11},"encoding":{"x":{"datum":180},"y":{"datum":0.448},"color":{"value":"black"}}}]},
{"width":298,"height":154,"transform":[{"filter":"datum.p=='o'||datum.p=='KK'"},{"fold":["T","R","G","S"],"as":["s","v"]}],
"encoding":{"x":{"field":"x","type":"quantitative","scale":{"domain":[0,180]},"axis":{"title":null,"labels":false,"values":[0,15,30,45,60,75,90,105,120,135,150,165,180]}},
"y":{"field":"v","type":"quantitative","scale":{"domain":[-0.021,0.448]},"axis":{"title":null,"labels":false,"values":[0,0.1,0.2,0.3,0.4]}},
"color":{"field":"s","type":"nominal","scale":{"domain":["T","R","G","S"],"range":["#000000","#ff0000","#008000","#0000ff"]},"legend":null}},
"layer":[{"transform":[{"filter":"datum.s=='T' && isValid(datum.v)"}],"mark":{"type":"line","clip":true,"strokeWidth":2.8}},{"transform":[{"filter":"datum.s!='T' && datum.s!='S' && isValid(datum.v)"}],"mark":{"type":"line","clip":true,"strokeWidth":1.2}},{"transform":[{"filter":"datum.s!='S' && isValid(datum.v) && datum.x>0"}],"mark":{"type":"point","size":40,"strokeWidth":1.4}},{"transform":[{"filter":"datum.s=='S'"}],"mark":{"type":"point","shape":"M0,-1L0.2245,-0.309L0.951,-0.309L0.363,0.118L0.588,0.809L0,0.382L-0.588,0.809L-0.363,0.118L-0.951,-0.309L-0.2245,-0.309Z","filled":true,"size":75,"clip":true}},
{"transform":[{"filter":"datum.x==6.43 && datum.s=='T'"}],"mark":{"type":"text","text":"(o) K|K, σ₀ = 2.0","align":"right","baseline":"top","dx":-2,"dy":11},"encoding":{"x":{"datum":180},"y":{"datum":0.448},"color":{"value":"black"}}}]},
{"width":298,"height":154,"transform":[{"filter":"datum.p=='d'"},{"fold":["T","R","G"],"as":["s","v"]}],
"encoding":{"x":{"field":"x","type":"quantitative","scale":{"domain":[0,180]},"axis":{"title":null,"labels":false,"values":[0,15,30,45,60,75,90,105,120,135,150,165,180]}},
"y":{"field":"v","type":"quantitative","scale":{"domain":[-0.0018,0.0451]},"axis":{"title":null,"values":[0,0.01,0.02,0.03,0.04],"format":".2f","labelExpr":"abs(datum.value*50-round(datum.value*50))>0.001 ? '' : datum.label"}},
"color":{"field":"s","type":"nominal","scale":{"domain":["T","R","G","S"],"range":["#000000","#ff0000","#008000","#0000ff"]},"legend":null}},
"layer":[{"transform":[{"filter":"datum.s=='T'"}],"mark":{"type":"line","clip":true,"strokeWidth":2.8}},{"transform":[{"filter":"datum.s!='T'"}],"mark":{"type":"line","clip":true,"strokeWidth":1.2}},{"transform":[{"filter":"datum.x>0"}],"mark":{"type":"point","size":40,"strokeWidth":1.4}},
{"transform":[{"filter":"datum.x==6.43 && datum.s=='T'"}],"mark":{"type":"text","text":"(d) π|p, σ₀ = 0.5","align":"right","baseline":"top","dx":-2,"dy":11},"encoding":{"x":{"datum":180},"y":{"datum":0.0451},"color":{"value":"black"}}}]},
{"width":298,"height":154,"transform":[{"filter":"datum.p=='j'"},{"fold":["T","R","G"],"as":["s","v"]}],
"encoding":{"x":{"field":"x","type":"quantitative","scale":{"domain":[0,180]},"axis":{"title":null,"labels":false,"values":[0,15,30,45,60,75,90,105,120,135,150,165,180]}},
"y":{"field":"v","type":"quantitative","scale":{"domain":[-0.0018,0.0451]},"axis":{"title":null,"labels":false,"values":[0,0.01,0.02,0.03,0.04]}},
"color":{"field":"s","type":"nominal","scale":{"domain":["T","R","G","S"],"range":["#000000","#ff0000","#008000","#0000ff"]},"legend":null}},
"layer":[{"transform":[{"filter":"datum.s=='T'"}],"mark":{"type":"line","clip":true,"strokeWidth":2.8}},{"transform":[{"filter":"datum.s!='T'"}],"mark":{"type":"line","clip":true,"strokeWidth":1.2}},{"transform":[{"filter":"datum.x>0"}],"mark":{"type":"point","size":40,"strokeWidth":1.4}},
{"transform":[{"filter":"datum.x==6.43 && datum.s=='T'"}],"mark":{"type":"text","text":"(j) π|p, σ₀ = 1.0","align":"right","baseline":"top","dx":-2,"dy":11},"encoding":{"x":{"datum":180},"y":{"datum":0.0451},"color":{"value":"black"}}}]},
{"width":298,"height":154,"transform":[{"filter":"datum.p=='pp'"},{"fold":["T","R","G"],"as":["s","v"]}],
"encoding":{"x":{"field":"x","type":"quantitative","scale":{"domain":[0,180]},"axis":{"title":null,"labels":false,"values":[0,15,30,45,60,75,90,105,120,135,150,165,180]}},
"y":{"field":"v","type":"quantitative","scale":{"domain":[-0.0018,0.0451]},"axis":{"title":null,"labels":false,"values":[0,0.01,0.02,0.03,0.04]}},
"color":{"field":"s","type":"nominal","scale":{"domain":["T","R","G","S"],"range":["#000000","#ff0000","#008000","#0000ff"]},"legend":null}},
"layer":[{"transform":[{"filter":"datum.s=='T'"}],"mark":{"type":"line","clip":true,"strokeWidth":2.8}},{"transform":[{"filter":"datum.s!='T'"}],"mark":{"type":"line","clip":true,"strokeWidth":1.2}},{"transform":[{"filter":"datum.x>0"}],"mark":{"type":"point","size":40,"strokeWidth":1.4}},
{"transform":[{"filter":"datum.x==6.43 && datum.s=='T'"}],"mark":{"type":"text","text":"(p) π|p, σ₀ = 2.0","align":"right","baseline":"top","dx":-2,"dy":11},"encoding":{"x":{"datum":180},"y":{"datum":0.0451},"color":{"value":"black"}}}]},
{"width":298,"height":154,"transform":[{"filter":"datum.p=='e'"},{"fold":["T","R","G"],"as":["s","v"]}],
"encoding":{"x":{"field":"x","type":"quantitative","scale":{"domain":[0,180]},"axis":{"title":null,"labels":false,"values":[0,15,30,45,60,75,90,105,120,135,150,165,180]}},
"y":{"field":"v","type":"quantitative","scale":{"domain":[-0.0037,0.0902]},"axis":{"title":null,"values":[0,0.02,0.04,0.06,0.08],"format":".2f","labelExpr":"abs(datum.value*25-round(datum.value*25))>0.001 ? '' : datum.label"}},
"color":{"field":"s","type":"nominal","scale":{"domain":["T","R","G","S"],"range":["#000000","#ff0000","#008000","#0000ff"]},"legend":null}},
"layer":[{"transform":[{"filter":"datum.s=='T'"}],"mark":{"type":"line","clip":true,"strokeWidth":2.8}},{"transform":[{"filter":"datum.s!='T'"}],"mark":{"type":"line","clip":true,"strokeWidth":1.2}},{"transform":[{"filter":"datum.x>0"}],"mark":{"type":"point","size":40,"strokeWidth":1.4}},
{"transform":[{"filter":"datum.x==6.43 && datum.s=='T'"}],"mark":{"type":"text","text":"(e) π|K, σ₀ = 0.5","align":"right","baseline":"top","dx":-2,"dy":11},"encoding":{"x":{"datum":180},"y":{"datum":0.0902},"color":{"value":"black"}}}]},
{"width":298,"height":154,"transform":[{"filter":"datum.p=='k'"},{"fold":["T","R","G"],"as":["s","v"]}],
"encoding":{"x":{"field":"x","type":"quantitative","scale":{"domain":[0,180]},"axis":{"title":null,"labels":false,"values":[0,15,30,45,60,75,90,105,120,135,150,165,180]}},
"y":{"field":"v","type":"quantitative","scale":{"domain":[-0.0037,0.0902]},"axis":{"title":null,"labels":false,"values":[0,0.02,0.04,0.06,0.08]}},
"color":{"field":"s","type":"nominal","scale":{"domain":["T","R","G","S"],"range":["#000000","#ff0000","#008000","#0000ff"]},"legend":null}},
"layer":[{"transform":[{"filter":"datum.s=='T'"}],"mark":{"type":"line","clip":true,"strokeWidth":2.8}},{"transform":[{"filter":"datum.s!='T'"}],"mark":{"type":"line","clip":true,"strokeWidth":1.2}},{"transform":[{"filter":"datum.x>0"}],"mark":{"type":"point","size":40,"strokeWidth":1.4}},
{"transform":[{"filter":"datum.x==6.43 && datum.s=='T'"}],"mark":{"type":"text","text":"(k) π|K, σ₀ = 1.0","align":"right","baseline":"top","dx":-2,"dy":11},"encoding":{"x":{"datum":180},"y":{"datum":0.0902},"color":{"value":"black"}}}]},
{"width":298,"height":154,"transform":[{"filter":"datum.p=='q'"},{"fold":["T","R","G"],"as":["s","v"]}],
"encoding":{"x":{"field":"x","type":"quantitative","scale":{"domain":[0,180]},"axis":{"title":null,"labels":false,"values":[0,15,30,45,60,75,90,105,120,135,150,165,180]}},
"y":{"field":"v","type":"quantitative","scale":{"domain":[-0.0037,0.0902]},"axis":{"title":null,"labels":false,"values":[0,0.02,0.04,0.06,0.08]}},
"color":{"field":"s","type":"nominal","scale":{"domain":["T","R","G","S"],"range":["#000000","#ff0000","#008000","#0000ff"]},"legend":null}},
"layer":[{"transform":[{"filter":"datum.s=='T'"}],"mark":{"type":"line","clip":true,"strokeWidth":2.8}},{"transform":[{"filter":"datum.s!='T'"}],"mark":{"type":"line","clip":true,"strokeWidth":1.2}},{"transform":[{"filter":"datum.x>0"}],"mark":{"type":"point","size":40,"strokeWidth":1.4}},
{"transform":[{"filter":"datum.x==6.43 && datum.s=='T'"}],"mark":{"type":"text","text":"(q) π|K, σ₀ = 2.0","align":"right","baseline":"top","dx":-2,"dy":11},"encoding":{"x":{"datum":180},"y":{"datum":0.0902},"color":{"value":"black"}}}]},
{"width":298,"height":154,"transform":[{"filter":"datum.p=='f'||datum.p=='PP'"},{"fold":["T","R","G","S"],"as":["s","v"]}],
"encoding":{"x":{"field":"x","type":"quantitative","scale":{"domain":[0,180]},"axis":{"title":"Δϕ (deg)","values":[0,15,30,45,60,75,90,105,120,135,150,165,180],"labelExpr":"datum.value % 30 == 0 && datum.value < 180 ? datum.label : ''"}},
"y":{"field":"v","type":"quantitative","scale":{"domain":[-0.038,0.895]},"axis":{"title":null,"values":[0.2,0.4,0.6,0.8],"format":".1f","labelExpr":"datum.value==0.4||datum.value==0.8 ? '' : datum.label"}},
"color":{"field":"s","type":"nominal","scale":{"domain":["T","R","G","S"],"range":["#000000","#ff0000","#008000","#0000ff"]},"legend":null}},
"layer":[{"transform":[{"filter":"datum.s=='T' && isValid(datum.v)"}],"mark":{"type":"line","clip":true,"strokeWidth":2.8}},{"transform":[{"filter":"datum.s!='T' && datum.s!='S' && isValid(datum.v)"}],"mark":{"type":"line","clip":true,"strokeWidth":1.2}},{"transform":[{"filter":"datum.s!='S' && isValid(datum.v) && datum.x>0"}],"mark":{"type":"point","size":40,"strokeWidth":1.4}},{"transform":[{"filter":"datum.s=='S'"}],"mark":{"type":"point","shape":"M0,-1L0.2245,-0.309L0.951,-0.309L0.363,0.118L0.588,0.809L0,0.382L-0.588,0.809L-0.363,0.118L-0.951,-0.309L-0.2245,-0.309Z","filled":true,"size":75,"clip":true}},
{"transform":[{"filter":"datum.x==6.43 && datum.s=='T'"}],"mark":{"type":"text","text":"(f) π|π, σ₀ = 0.5","align":"right","baseline":"top","dx":-2,"dy":11},"encoding":{"x":{"datum":180},"y":{"datum":0.895},"color":{"value":"black"}}}]},
{"width":298,"height":154,"transform":[{"filter":"datum.p=='l'||datum.p=='PP'"},{"fold":["T","R","G","S"],"as":["s","v"]}],
"encoding":{"x":{"field":"x","type":"quantitative","scale":{"domain":[0,180]},"axis":{"title":"Δϕ (deg)","values":[0,15,30,45,60,75,90,105,120,135,150,165,180],"labelExpr":"datum.value % 30 == 0 && datum.value < 180 ? datum.label : ''"}},
"y":{"field":"v","type":"quantitative","scale":{"domain":[-0.038,0.895]},"axis":{"title":null,"labels":false,"values":[0.2,0.4,0.6,0.8]}},
"color":{"field":"s","type":"nominal","scale":{"domain":["T","R","G","S"],"range":["#000000","#ff0000","#008000","#0000ff"]},"legend":null}},
"layer":[{"transform":[{"filter":"datum.s=='T' && isValid(datum.v)"}],"mark":{"type":"line","clip":true,"strokeWidth":2.8}},{"transform":[{"filter":"datum.s!='T' && datum.s!='S' && isValid(datum.v)"}],"mark":{"type":"line","clip":true,"strokeWidth":1.2}},{"transform":[{"filter":"datum.s!='S' && isValid(datum.v) && datum.x>0"}],"mark":{"type":"point","size":40,"strokeWidth":1.4}},{"transform":[{"filter":"datum.s=='S'"}],"mark":{"type":"point","shape":"M0,-1L0.2245,-0.309L0.951,-0.309L0.363,0.118L0.588,0.809L0,0.382L-0.588,0.809L-0.363,0.118L-0.951,-0.309L-0.2245,-0.309Z","filled":true,"size":75,"clip":true}},
{"transform":[{"filter":"datum.x==6.43 && datum.s=='T'"}],"mark":{"type":"text","text":"(l) π|π, σ₀ = 1.0","align":"right","baseline":"top","dx":-2,"dy":11},"encoding":{"x":{"datum":180},"y":{"datum":0.895},"color":{"value":"black"}}}]},
{"width":298,"height":154,"transform":[{"filter":"datum.p=='r'||datum.p=='PP'"},{"fold":["T","R","G","S"],"as":["s","v"]}],
"encoding":{"x":{"field":"x","type":"quantitative","scale":{"domain":[0,180]},"axis":{"title":"Δϕ (deg)","values":[0,15,30,45,60,75,90,105,120,135,150,165,180],"labelExpr":"datum.value % 30 == 0 && datum.value < 180 ? datum.label : ''"}},
"y":{"field":"v","type":"quantitative","scale":{"domain":[-0.038,0.895]},"axis":{"title":null,"labels":false,"values":[0.2,0.4,0.6,0.8]}},
"color":{"field":"s","type":"nominal","scale":{"domain":["T","R","G","S"],"range":["#000000","#ff0000","#008000","#0000ff"]},"legend":null}},
"layer":[{"transform":[{"filter":"datum.s=='T' && isValid(datum.v)"}],"mark":{"type":"line","clip":true,"strokeWidth":2.8}},{"transform":[{"filter":"datum.s!='T' && datum.s!='S' && isValid(datum.v)"}],"mark":{"type":"line","clip":true,"strokeWidth":1.2}},{"transform":[{"filter":"datum.s!='S' && isValid(datum.v) && datum.x>0"}],"mark":{"type":"point","size":40,"strokeWidth":1.4}},{"transform":[{"filter":"datum.s=='S'"}],"mark":{"type":"point","filled":true,"size":75,"clip":true},"encoding":{"shape":{"datum":"ALICE-Preliminary","type":"nominal","scale":{"range":["M0,-1L0.2245,-0.309L0.951,-0.309L0.363,0.118L0.588,0.809L0,0.382L-0.588,0.809L-0.363,0.118L-0.951,-0.309L-0.2245,-0.309Z"]},"legend":{"orient":"top-right","offset":12,"title":null,"labelFont":"DejaVu Serif","labelFontSize":18,"labelColor":"black","labelLimit":300,"symbolSize":110,"symbolOffset":10,"symbolFillColor":"#0000ff","symbolStrokeColor":"#0000ff","symbolType":"M0,-1L0.2245,-0.309L0.951,-0.309L0.363,0.118L0.588,0.809L0,0.382L-0.588,0.809L-0.363,0.118L-0.951,-0.309L-0.2245,-0.309Z","strokeColor":"#cccccc","fillColor":"white","padding":10,"cornerRadius":4,"labelOffset":35}}}},
{"transform":[{"filter":"datum.x==6.43 && datum.s=='T'"}],"mark":{"type":"text","text":"(r) π|π, σ₀ = 2.0","align":"right","baseline":"top","dx":-2,"dy":47},"encoding":{"x":{"datum":180},"y":{"datum":0.895},"color":{"value":"black"}}}]}
],
"config":{
"view":{"stroke":"#222222","strokeWidth":1.3},
"point":{"opacity":1},
"text":{"font":"DejaVu Sans","fontSize":19},
"legend":{"symbolBaseFillColor":"#0000ff","symbolBaseStrokeColor":"#0000ff"},
"axis":{"domain":false,"grid":false,"tickColor":"black","tickWidth":1,"tickSize":4,"labelFont":"DejaVu Serif","labelFontSize":19,"labelColor":"black","labelPadding":3,"labelFlush":false,"labelOverlap":false,"titleFont":"DejaVu Sans","titleFontSize":26,"titleFontWeight":"normal","titleColor":"black","titlePadding":6}
}
}
